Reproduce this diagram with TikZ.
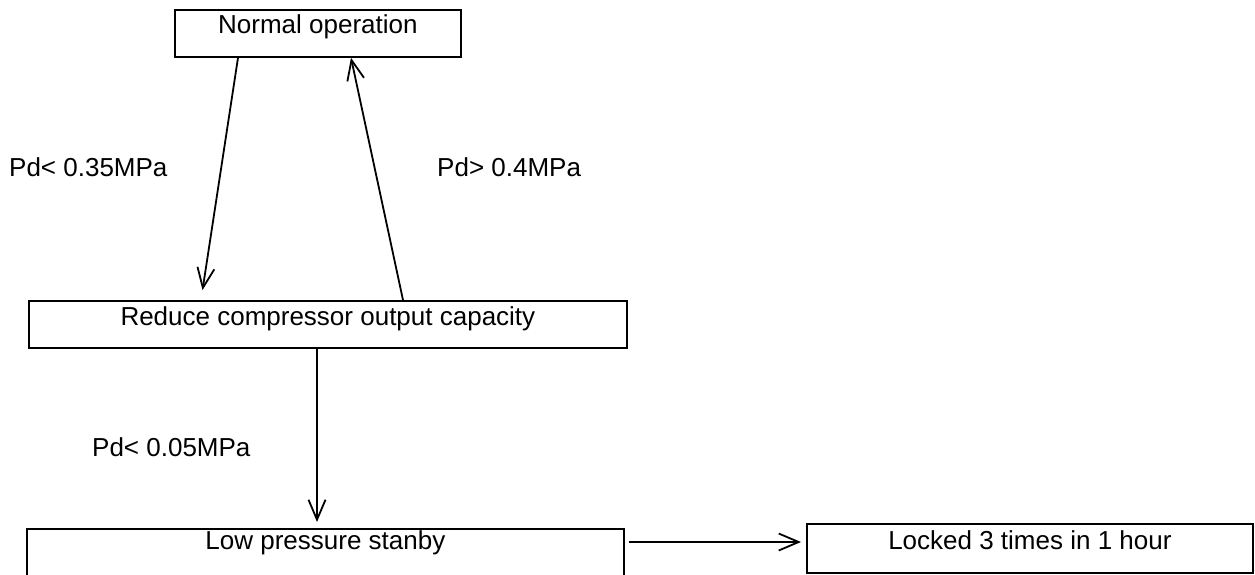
\documentclass[tikz,border=0pt]{standalone}
\usepackage{fontspec}
\setmainfont{Liberation Sans}
\usetikzlibrary{arrows.meta}
\begin{document}
\begin{tikzpicture}[x=1pt,y=-1pt,
  every node/.style={font=\fontsize{26}{30}\selectfont},
  box/.style={draw,line width=1.8pt,inner sep=0pt,anchor=north west,align=center},
  lbl/.style={inner sep=0pt,anchor=base west},
  arr/.style={line width=1.8pt,-{Straight Barb[length=20pt,width=17pt,line width=1.8pt]}}]
\useasboundingbox (0,0) rectangle (1255,574);
\clip (0,0) rectangle (1255,574);

% state boxes
\node[box,minimum width=286pt,text height=24pt,text depth=23pt] (norm) at (174,9) {Normal operation};
\node[box,minimum width=598pt,text height=25pt,text depth=22pt] (red) at (28,300) {Reduce compressor output capacity};
\node[box,minimum width=597pt,text height=21pt,text depth=28pt] (low) at (26,528) {Low pressure stanby};
\node[box,minimum width=446pt,text height=26pt,text depth=23pt] (lock) at (806,523) {Locked 3 times in 1 hour};

% transition conditions
\node[lbl] (c1) at (9,176) {Pd< 0.35MPa};
\node[lbl] (c2) at (437,176) {Pd> 0.4MPa};
\node[lbl] (c3) at (92,456) {Pd< 0.05MPa};

% transitions
\draw[arr,shorten >=10pt] ([xshift=64pt]norm.south west) -- ([xshift=173pt]red.north west);
\draw[arr] ([xshift=375pt]red.north west) -- ([xshift=177pt]norm.south west);
\draw[arr,shorten >=6pt] ([xshift=289pt]red.south west) -- ([xshift=289pt]red.south west |- low.north);
\draw[arr,shorten <=4pt,shorten >=5pt] ([yshift=-14pt]low.north east) -- ([yshift=-14pt]low.north east -| lock.west);
\end{tikzpicture}
\end{document}
